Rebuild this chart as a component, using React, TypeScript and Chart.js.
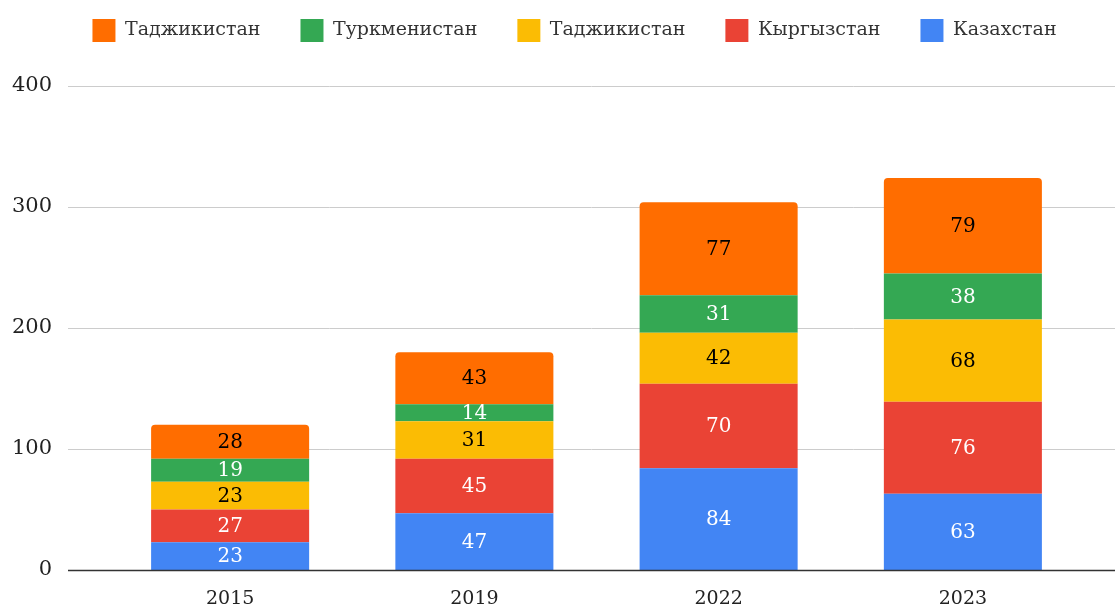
import React, { useEffect, useRef } from "react";
import { Chart, registerables } from "chart.js";

Chart.register(...registerables);

const categories = ["2015", "2019", "2022", "2023"];
const seriesNames = ["Казахстан", "Кыргызстан", "Таджикистан", "Туркменистан", "Таджикистан"];
const kazakhstan = [23, 47, 84, 63];
const kyrgyzstan = [27, 45, 70, 76];
const tajikistanA = [23, 31, 42, 68];
const turkmenistan = [19, 14, 31, 38];
const tajikistanB = [28, 43, 77, 79];
const seriesColors = ["#4285F4", "#EA4335", "#FBBC04", "#34A853", "#FF6D00"];
const labelColors = ["#ffffff", "#ffffff", "#000000", "#ffffff", "#000000"];
const yTicks = [0, 100, 200, 300, 400];

const FONT = "'DejaVu Serif', serif";

const gridPlugin = {
  id: "customGrid",
  beforeDatasetsDraw(chart: any) {
    const { ctx, chartArea, scales } = chart;
    const y = scales.y;
    ctx.save();
    ctx.strokeStyle = "#cccccc";
    ctx.lineWidth = 1;
    yTicks.forEach((v) => {
      if (v === 0) return;
      const py = Math.round(y.getPixelForValue(v)) + 0.5;
      ctx.beginPath();
      ctx.moveTo(chartArea.left - 40, py);
      ctx.lineTo(chart.width, py);
      ctx.stroke();
    });
    ctx.restore();
  },
  afterDatasetsDraw(chart: any) {
    const { ctx, chartArea, scales } = chart;
    const y = scales.y;
    ctx.save();
    ctx.font = `20px ${FONT}`;
    ctx.textAlign = "center";
    ctx.textBaseline = "middle";
    chart.data.datasets.forEach((ds: any, i: number) => {
      const meta = chart.getDatasetMeta(i);
      meta.data.forEach((el: any, j: number) => {
        const cy = (el.y + el.base) / 2 + 1;
        ctx.fillStyle = labelColors[i];
        ctx.fillText(String(ds.data[j]), el.x, cy);
      });
    });
    const py = Math.round(y.getPixelForValue(0)) + 0.5;
    ctx.strokeStyle = "#333333";
    ctx.lineWidth = 1.5;
    ctx.beginPath();
    ctx.moveTo(chartArea.left - 40, py);
    ctx.lineTo(chart.width, py);
    ctx.stroke();
    ctx.restore();
  },
};

export default function App() {
  const ref = useRef<HTMLCanvasElement | null>(null);
  useEffect(() => {
    document.body.style.margin = "0";
    const values = [kazakhstan, kyrgyzstan, tajikistanA, turkmenistan, tajikistanB];
    const chart: any = new Chart(ref.current as HTMLCanvasElement, {
      type: "bar",
      data: {
        labels: categories,
        datasets: values.map((d, i) => ({
          label: seriesNames[i],
          data: d,
          backgroundColor: seriesColors[i],
          borderRadius: 4,
          categoryPercentage: 1,
          barPercentage: 0.647,
        })),
      },
      options: {
        animation: false,
        responsive: false,
        maintainAspectRatio: false,
        layout: { padding: { left: 0, right: 30, top: 0, bottom: 0 } },
        plugins: {
          legend: {
            position: "top",
            reverse: true,
            labels: {
              boxWidth: 23,
              boxHeight: 23,
              padding: 40,
              color: "#333333",
              font: { family: FONT, size: 19 },
            },
          },
          tooltip: { enabled: false },
        },
        scales: {
          x: {
            stacked: true,
            grid: { display: false },
            border: { display: false },
            afterFit: (s: any) => {
              s.height = 38;
            },
            ticks: {
              color: "#222222",
              font: { family: FONT, size: 19 },
              padding: 10,
            },
          },
          y: {
            stacked: true,
            min: 0,
            max: 400,
            grid: { display: false, drawTicks: true, tickLength: 56 },
            border: { display: false },
            afterFit: (s: any) => {
              s.width = 108;
            },
            afterBuildTicks: (s: any) => {
              s.ticks = yTicks.map((v) => ({ value: v }));
            },
            ticks: {
              color: "#222222",
              font: { family: FONT, size: 21 },
              padding: 0,
            },
          },
        },
      },
      plugins: [gridPlugin],
    });
    const legend = chart.legend;
    const origFit = legend.fit.bind(legend);
    legend.fit = function () {
      origFit();
      this.height = 86;
    };
    const origDraw = legend.draw.bind(legend);
    legend.draw = function () {
      const ctx = chart.ctx;
      ctx.save();
      ctx.translate(32, -21);
      origDraw();
      ctx.restore();
    };
    chart.update();
    return () => chart.destroy();
  }, []);
  return (
    <div style={{ width: 1115, height: 608 }}>
      <canvas ref={ref} width={1115} height={608} style={{ display: "block" }} />
    </div>
  );
}
